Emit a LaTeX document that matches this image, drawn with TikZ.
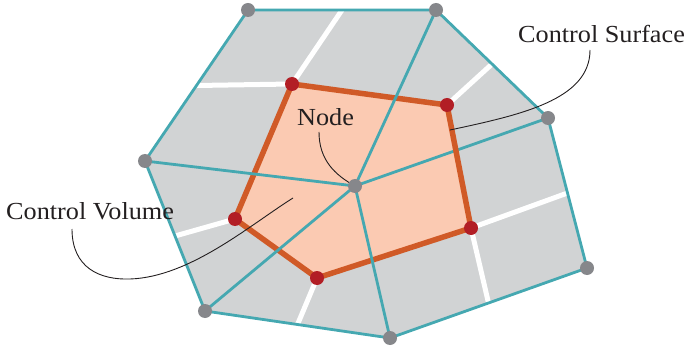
\documentclass[tikz,border=0pt]{standalone}
\usepackage{fontspec}
\setmainfont[FakeStretch=1.07]{Liberation Serif}
\usetikzlibrary{calc}
\begin{document}
\begin{tikzpicture}[x=1pt,y=-1pt,
  gridline/.style={draw=meshteal,line width=2.8pt,line join=round},
  facebound/.style={draw=faceorange,line width=5.5pt,line join=round},
  split/.style={draw=white,line width=5pt},
  outerpt/.style={circle,fill=ptgray,inner sep=0pt,minimum size=14pt},
  innerpt/.style={circle,fill=ptred,inner sep=0pt,minimum size=14pt},
  lbl/.style={font=\fontsize{24.5}{28}\selectfont,text=labelink,inner sep=0pt},
  leader/.style={draw=labelink,line width=0.9pt}]
\definecolor{meshteal}{HTML}{45A8B1}
\definecolor{faceorange}{HTML}{D05A27}
\definecolor{facefill}{HTML}{FBCAB2}
\definecolor{cellgray}{HTML}{D1D3D4}
\definecolor{ptgray}{HTML}{86878B}
\definecolor{ptred}{HTML}{B21E25}
\definecolor{labelink}{HTML}{231F20}
\useasboundingbox (0,0) rectangle (684,347);
% mesh points
\coordinate (A) at (248,10);
\coordinate (B) at (436,10);
\coordinate (C) at (548,118);
\coordinate (D) at (587,268);
\coordinate (E) at (390,338);
\coordinate (F) at (205,311);
\coordinate (G) at (145,161);
\coordinate (O) at (355,186);
% control volume corners
\coordinate (R1) at (292,84);
\coordinate (R2) at (447,105);
\coordinate (R3) at (471,228);
\coordinate (R4) at (317,278);
\coordinate (R5) at (235,219);
% cell domain
\fill[cellgray] (A) -- (B) -- (C) -- (D) -- (E) -- (F) -- (G) -- cycle;
% cell splits from corners to edge midpoints
\draw[split] (R1) -- ($(A)!0.5!(B)$);
\draw[split] (R1) -- ($(A)!0.5!(G)$);
\draw[split] (R2) -- ($(B)!0.5!(C)$);
\draw[split] (R3) -- ($(C)!0.5!(D)$);
\draw[split] (R3) -- ($(D)!0.5!(E)$);
\draw[split] (R4) -- ($(E)!0.5!(F)$);
\draw[split] (R5) -- ($(F)!0.5!(G)$);
% control volume
\fill[facefill] (R1) -- (R2) -- (R3) -- (R4) -- (R5) -- cycle;
\draw[gridline] (O) -- (C);
\draw[facebound] (R1) -- (R2) -- (R3) -- (R4) -- (R5) -- cycle;
% mesh edges
\draw[gridline] (A) -- (B) -- (C) -- (D) -- (E) -- (F) -- (G) -- cycle;
\draw[gridline] (O) -- (B);
\draw[gridline] (O) -- (E);
\draw[gridline] (O) -- (F);
\draw[gridline] (O) -- (G);
% labels and leaders
\node[lbl,anchor=base west] (nodelbl) at (297,125.5) {Node};
\node[lbl,anchor=base west] (surflbl) at (518,42.5) {Control Surface};
\node[lbl,anchor=base west] (vollbl) at (6,219.5) {Control Volume};
\coordinate (nodetip) at (319,132);
\coordinate (surftip) at (590,50);
\coordinate (voltip) at (72,229);
\coordinate (surfend) at (450,130);
\coordinate (volend) at (293,198);
\draw[leader] (nodetip) .. controls (319,160) and (335,175) .. (O);
\draw[leader] (surftip) .. controls (590,100) and (520,115) .. (surfend);
\draw[leader] (voltip) .. controls (72,268) and (100,280) .. (130,279)
  .. controls (190,277) and (250,225) .. (volend);
% points
\foreach \p in {A,B,C,D,E,F,G,O} \node[outerpt] (pt\p) at (\p) {};
\foreach \p in {R1,R2,R3,R4,R5} \node[innerpt] (pt\p) at (\p) {};
\end{tikzpicture}
\end{document}
